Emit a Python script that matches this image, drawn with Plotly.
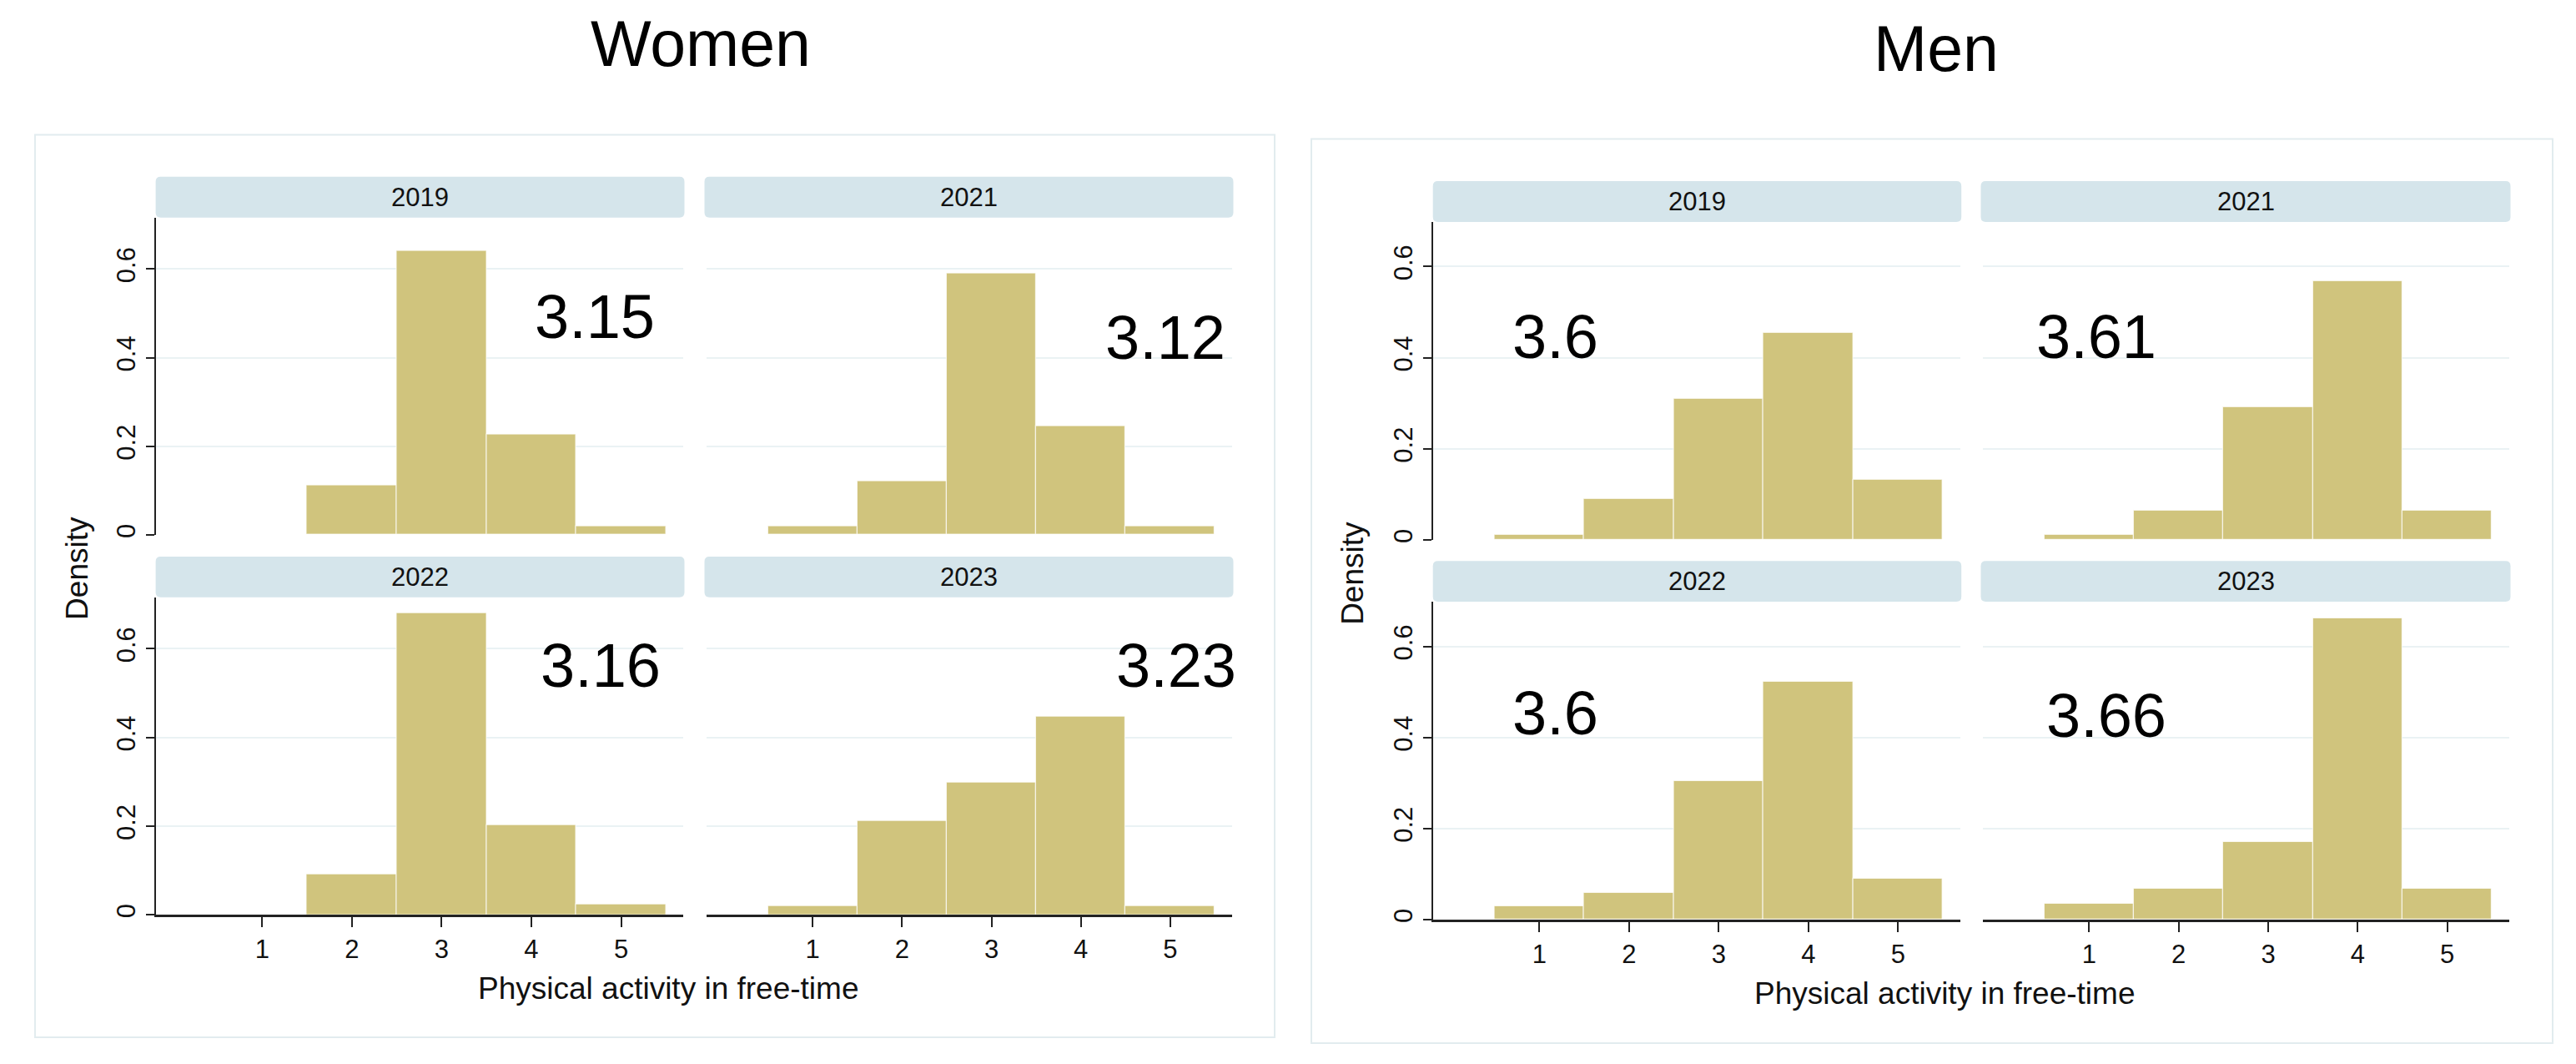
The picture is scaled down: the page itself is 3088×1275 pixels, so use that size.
import plotly.graph_objects as go

# ---------------- data ----------------
categories = [1, 2, 3, 4, 5]
years = ["2019", "2021", "2022", "2023"]

women_2019 = [0.000, 0.112, 0.640, 0.226, 0.020]
women_2021 = [0.019, 0.122, 0.589, 0.245, 0.019]
women_2022 = [0.000, 0.092, 0.680, 0.203, 0.024]
women_2023 = [0.019, 0.211, 0.299, 0.447, 0.019]

men_2019 = [0.012, 0.090, 0.310, 0.455, 0.132]
men_2021 = [0.011, 0.064, 0.292, 0.568, 0.064]
men_2022 = [0.030, 0.059, 0.304, 0.523, 0.089]
men_2023 = [0.034, 0.068, 0.171, 0.661, 0.068]

women_means = ["3.15", "3.12", "3.16", "3.23"]
men_means = ["3.6", "3.61", "3.6", "3.66"]

y_tickvals = [0, 0.2, 0.4, 0.6]
y_ticktext = ["0", "0.2", "0.4", "0.6"]
x_tickvals = [1, 2, 3, 4, 5]
x_ticktext = ["1", "2", "3", "4", "5"]

group_titles = ["Women", "Men"]
x_title = "Physical activity in free-time"
y_title = "Density"

# ---------------- style ----------------
W, H = 3088, 1275
FONT = "Liberation Sans, Arial, sans-serif"
BAR = "#D0C47D"
STRIP = "#D5E5EB"
GRID = "#EAF2F4"
BOXLINE = "#E2ECEF"
AXIS = "#222222"


def px_x(p):
    return p / W


def px_y(p):
    return 1 - p / H


def rounded_rect_path(x0, x1, ytop, ybot, r):
    # pixel coords -> paper path with rounded corners
    X = lambda v: f"{px_x(v):.6f}"
    Y = lambda v: f"{px_y(v):.6f}"
    return (f"M {X(x0 + r)},{Y(ytop)} L {X(x1 - r)},{Y(ytop)} "
            f"Q {X(x1)},{Y(ytop)} {X(x1)},{Y(ytop + r)} "
            f"L {X(x1)},{Y(ybot - r)} Q {X(x1)},{Y(ybot)} {X(x1 - r)},{Y(ybot)} "
            f"L {X(x0 + r)},{Y(ybot)} Q {X(x0)},{Y(ybot)} {X(x0)},{Y(ybot - r)} "
            f"L {X(x0)},{Y(ytop + r)} Q {X(x0)},{Y(ytop)} {X(x0 + r)},{Y(ytop)} Z")


fig = go.Figure()

# panel layout in pixels: (x0, x1, y_top, y_bottom)
women_boxes = [
    (178.6, 811, 253.5, 635),
    (839, 1469, 253.5, 635),
    (178.6, 811, 710, 1091.7),
    (839, 1469, 710, 1091.7),
]
men_boxes = [
    (1709.7, 2341.7, 258.7, 641),
    (2369, 3000, 258.7, 641),
    (1709.7, 2341.7, 715.3, 1097.5),
    (2369, 3000, 715.3, 1097.5),
]
women_text_pos = [(4.707, 0.492), (4.95, 0.446), (4.77, 0.562), (5.07, 0.562)]
men_text_pos = [(1.175, 0.446), (1.08, 0.446), (1.175, 0.453), (1.196, 0.448)]

groups = [
    ([women_2019, women_2021, women_2022, women_2023], women_means, women_boxes, women_text_pos, 0.716),
    ([men_2019, men_2021, men_2022, men_2023], men_means, men_boxes, men_text_pos, 0.698),
]

xrange_ = [-0.187, 5.692]
annotations = []
shapes = []

# outer boxes
for (bx0, by0, bx1, by1) in [(34, 154, 1520, 1239), (1564, 159, 3052, 1246)]:
    shapes.append(dict(type="rect", xref="paper", yref="paper",
                       x0=px_x(bx0), x1=px_x(bx1), y0=px_y(by1), y1=px_y(by0),
                       line=dict(color=BOXLINE, width=2), fillcolor="white", layer="below"))

n = 0
for gi, (series, means, boxes, tpos, ytop) in enumerate(groups):
    for k in range(4):
        n += 1
        xa = "x" if n == 1 else f"x{n}"
        ya = "y" if n == 1 else f"y{n}"
        xkey = "xaxis" if n == 1 else f"xaxis{n}"
        ykey = "yaxis" if n == 1 else f"yaxis{n}"
        x0, x1, yt, yb = boxes[k]
        is_left = k in (0, 2)
        is_bottom = k in (2, 3)

        fig.add_trace(go.Bar(
            x=categories, y=series[k], width=1.0,
            marker=dict(color=BAR, line=dict(color="rgba(255,255,255,0.7)", width=1.2)),
            xaxis=xa, yaxis=ya, showlegend=False, hoverinfo="x+y",
        ))

        fig.layout[xkey] = dict(
            domain=[px_x(x0), px_x(x1)], anchor=ya, range=xrange_,
            tickvals=x_tickvals, ticktext=x_ticktext,
            showticklabels=is_bottom, ticks="outside" if is_bottom else "",
            ticklen=12, tickwidth=2, tickcolor=AXIS,
            showline=is_bottom, linecolor=AXIS, linewidth=2.5,
            showgrid=False, zeroline=False,
            tickfont=dict(family=FONT, size=31, color="#111"),
            fixedrange=True,
        )
        fig.layout[ykey] = dict(
            domain=[px_y(yb), px_y(yt)], anchor=xa, range=[0, ytop],
            tickvals=y_tickvals, ticktext=y_ticktext,
            showticklabels=is_left, ticks="outside" if is_left else "",
            ticklen=10, tickwidth=2, tickcolor=AXIS, tickangle=-90,
            showline=is_left, linecolor=AXIS, linewidth=2,
            showgrid=True, gridcolor=GRID, gridwidth=2, zeroline=False,
            tickfont=dict(family=FONT, size=31, color="#111"),
            fixedrange=True,
        )

        # strip
        sx0 = x0 - (0 if is_left else 2.5)
        sx1 = x1 + 1.5
        shapes.append(dict(type="path", xref="paper", yref="paper",
                           path=rounded_rect_path(sx0, sx1, yt - 49, yt, 6),
                           line=dict(width=0), fillcolor=STRIP, layer="below"))
        annotations.append(dict(xref="paper", yref="paper",
                                x=px_x((sx0 + sx1) / 2), y=px_y(yt - 24.5),
                                text=years[k], showarrow=False,
                                font=dict(family=FONT, size=31, color="#111"),
                                xanchor="center", yanchor="middle"))
        # mean annotation
        annotations.append(dict(xref=xa, yref=ya, x=tpos[k][0], y=tpos[k][1],
                                text=means[k], showarrow=False,
                                font=dict(family=FONT, size=74, color="#000"),
                                xanchor="center", yanchor="middle"))

# group titles
annotations.append(dict(xref="paper", yref="paper", x=px_x(832), y=px_y(44),
                        text=group_titles[0], showarrow=False,
                        font=dict(family=FONT, size=77, color="#000"),
                        xanchor="center", yanchor="middle"))
annotations.append(dict(xref="paper", yref="paper", x=px_x(2313), y=px_y(50),
                        text=group_titles[1], showarrow=False,
                        font=dict(family=FONT, size=77, color="#000"),
                        xanchor="center", yanchor="middle"))

# axis titles
for (cx, cy) in [(85, 675), (1614, 681)]:
    annotations.append(dict(xref="paper", yref="paper", x=px_x(cx), y=px_y(cy),
                            text=y_title, showarrow=False, textangle=-90,
                            font=dict(family=FONT, size=37, color="#111"),
                            xanchor="center", yanchor="middle"))
for (cx, cy) in [(793, 1180), (2323, 1186)]:
    annotations.append(dict(xref="paper", yref="paper", x=px_x(cx), y=px_y(cy),
                            text=x_title, showarrow=False,
                            font=dict(family=FONT, size=37, color="#111"),
                            xanchor="center", yanchor="middle"))

fig.update_layout(
    width=W, height=H,
    margin=dict(l=0, r=0, t=0, b=0),
    paper_bgcolor="white", plot_bgcolor="rgba(0,0,0,0)",
    bargap=0, showlegend=False,
    shapes=shapes, annotations=annotations,
)

fig.write_html("out.html")
